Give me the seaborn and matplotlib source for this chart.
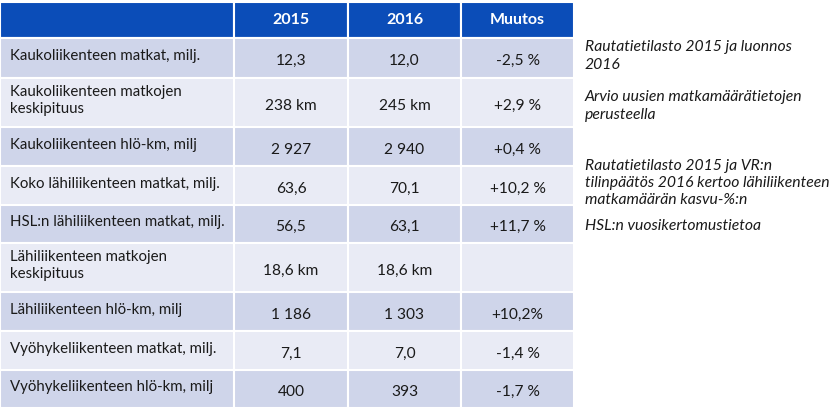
import numpy as np
import pandas as pd
import matplotlib.pyplot as plt
import seaborn as sns

# table content
header = ["", "2015", "2016", "Muutos"]
labels = ["Kaukoliikenteen matkat, milj.",
          "Kaukoliikenteen matkojen\nkeskipituus",
          "Kaukoliikenteen hlö-km, milj",
          "Koko lähiliikenteen matkat, milj.",
          "HSL:n lähiliikenteen matkat, milj.",
          "Lähiliikenteen matkojen\nkeskipituus",
          "Lähiliikenteen hlö-km, milj",
          "Vyöhykeliikenteen matkat, milj.",
          "Vyöhykeliikenteen hlö-km, milj"]
v2015 = ["12,3", "238 km", "2 927", "63,6", "56,5", "18,6 km", "1 186", "7,1", "400"]
v2016 = ["12,0", "245 km", "2 940", "70,1", "63,1", "18,6 km", "1 303", "7,0", "393"]
muutos = ["-2,5 %", "+2,9 %", "+0,4 %", "+10,2 %", "+11,7 %", "", "+10,2%", "-1,4 %", "-1,7 %"]

notes = ["Rautatietilasto 2015 ja luonnos\n2016",
         "Arvio uusien matkamäärätietojen\nperusteella",
         "Rautatietilasto 2015 ja VR:n\ntilinpäätös 2016 kertoo lähiliikenteen\nmatkamäärän kasvu-%:n",
         "HSL:n vuosikertomustietoa"]

# layout (pixels)
col_edges = [0, 234, 348, 461, 574]
row_edges = [2, 38, 78, 127, 166, 205, 243, 292, 331, 370, 408]
note_y = [56, 106, 183, 226]

blue = "#0B4DB8"
dark = "#CFD5EA"
light = "#E9EBF5"

sns.set_theme(style="white")
plt.rcParams['font.family'] = ['Lato', 'DejaVu Sans']

fig = plt.figure(figsize=(8.39, 4.11), dpi=100)
ax = fig.add_axes([0, 0, 1, 1])
ax.set_xlim(0, 839)
ax.set_ylim(411, 0)
ax.axis('off')

df = pd.DataFrame({'label': labels, '2015': v2015, '2016': v2016, 'Muutos': muutos})

# header row
for c in range(4):
    x0, x1 = col_edges[c], col_edges[c + 1]
    y0, y1 = row_edges[0], row_edges[1]
    ax.barh((y0 + y1) / 2, x1 - x0, height=y1 - y0, left=x0, color=blue,
            edgecolor='white', linewidth=1.5)
    ax.text((x0 + x1) / 2, (y0 + y1) / 2, header[c], color='white', weight='bold',
            ha='center', va='center', fontsize=11.5)

# body rows
for i, row in df.iterrows():
    y0, y1 = row_edges[i + 1], row_edges[i + 2]
    yc = (y0 + y1) / 2
    fill = dark if i % 2 == 0 else light
    for c in range(4):
        x0, x1 = col_edges[c], col_edges[c + 1]
        ax.barh(yc, x1 - x0, height=y1 - y0, left=x0, color=fill,
                edgecolor='white', linewidth=1.5)
    ax.text(10, yc - 2, row['label'], ha='left', va='center', fontsize=10.8,
            color='#1A1A1A', linespacing=1.35)
    for c, key in zip([1, 2, 3], ['2015', '2016', 'Muutos']):
        xc = (col_edges[c] + col_edges[c + 1]) / 2
        ax.text(xc, yc + 3, row[key], ha='center', va='center', fontsize=11.2,
                color='#1A1A1A')

# notes at the right
for t, y in zip(notes, note_y):
    ax.text(585, y, t, ha='left', va='center', fontsize=11.3, style='italic',
            color='#1A1A1A', linespacing=1.3)

fig.savefig('out.png', dpi=100, facecolor='white')
